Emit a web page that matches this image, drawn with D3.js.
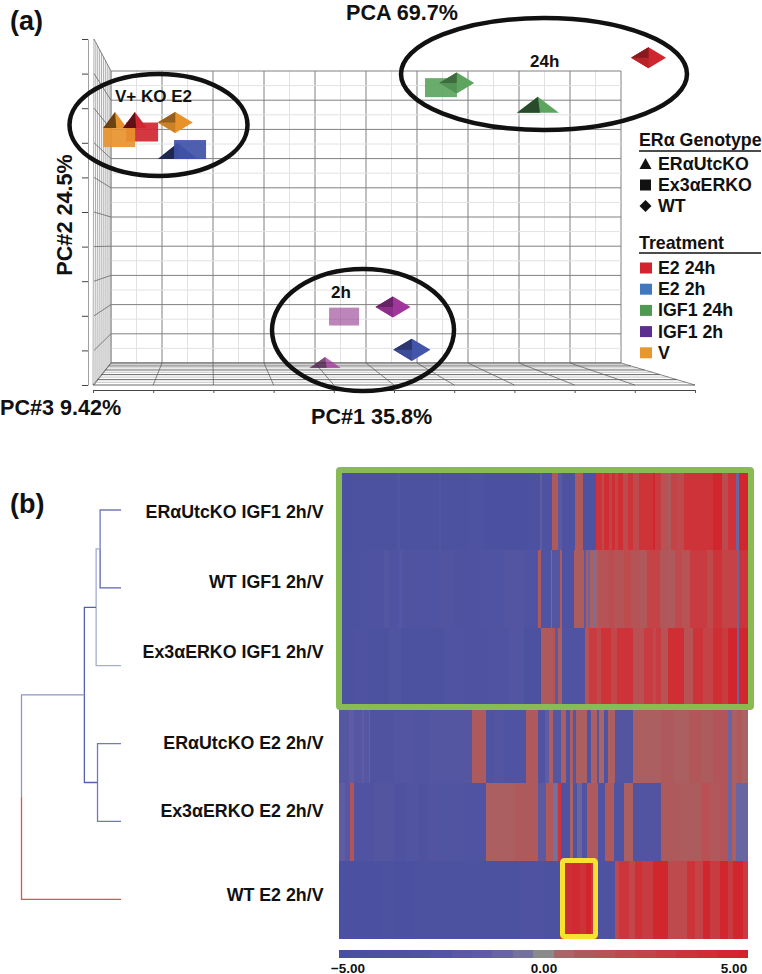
<!DOCTYPE html>
<html>
<head>
<meta charset="utf-8">
<script src="https://cdn.jsdelivr.net/npm/d3@7"></script>
<style>
  html, body { margin: 0; padding: 0; background: #fff; }
  text { font-family: "Liberation Sans", Arial, sans-serif; font-weight: bold; fill: #111; }
</style>
</head>
<body>
<div id="chart-area"></div>
<script>
// Constants
const WIDTH = 762;
const HEIGHT = 974;

// PCA data (grid units of the 3D box)
const pcaGenotype = ['tri', 'tri', 'square', 'square', 'diamond', 'tri', 'square', 'square', 'tri', 'diamond', 'diamond', 'diamond', 'square', 'diamond', 'tri'];
const pcaTreatment = ['E2 2h', 'V', 'E2 24h', 'V', 'V', 'E2 24h', 'E2 2h', 'IGF1 24h', 'IGF1 24h', 'IGF1 24h', 'E2 24h', 'IGF1 2h', 'IGF1 2h', 'E2 2h', 'IGF1 2h'];
const pcaPc1 = [1.31, 0.08, 0.61, 0.16, 1.26, 0.47, 1.55, 6.47, 8.37, 6.78, 10.54, 5.53, 4.57, 5.9, 4.2];
const pcaPc2 = [7.26, 8.32, 7.91, 7.72, 8.24, 8.32, 7.31, 9.43, 8.84, 9.59, 10.45, 1.92, 1.59, 0.45, 0.02];
const pcaPc3 = [-0.5, -4.3, 0, 0, 0, -4.3, 0, 0, 0, 0, 0, 0, -0.6, 0.6, -2.6];

// Legend data
const genotypeLabels = ['ERαUtcKO', 'Ex3αERKO', 'WT'];
const genotypeShapes = ['tri', 'square', 'diamond'];
const treatmentLabels = ['E2 24h', 'E2 2h', 'IGF1 24h', 'IGF1 2h', 'V'];
const treatmentColors = ['#d2232e', '#3f78bf', '#4f9a50', '#5b2e90', '#e8962e'];
const markerColors = ['#d0262f', '#4355ab', '#5da55f', '#a0359c', '#e8922c'];

// Heatmap rows, pairs of [last gene index, log ratio]
const rowLabels = ['ERαUtcKO IGF1 2h/V', 'WT IGF1 2h/V', 'Ex3αERKO IGF1 2h/V', 'ERαUtcKO E2 2h/V', 'Ex3αERKO E2 2h/V', 'WT E2 2h/V'];
const rowErIgf = [[12,-4.2],[26,-3.6],[43,-4],[58,-3.8],[61,-2.6],[100,-3.7],[102,-2.6],[130,-4],[145,-3.5],[190,-4.2],[201,-3.8],[203,-1.5],[213,-3.4],[219,1],[223,-2],[236,-3.5],[244,1],[257,-3.5],[263,3.6],[265,2],[270,4],[273,2.5],[276,4],[279,2.5],[284,4],[289,2],[294,3.6],[300,2],[314,3.6],[316,4.6],[322,3],[329,1.5],[332,1],[338,2.5],[345,2],[374,3.6],[383,4.6],[389,2],[397,3.6],[400,-1],[409,4.6]];
const rowWtIgf = [[22,-3.8],[45,-3.4],[50,-2.5],[60,-3.2],[63,-2.4],[100,-3.2],[115,-2.8],[140,-3.4],[165,-3],[185,-2.6],[199,-3.2],[202,1],[212,-3],[213,1],[221,-2.5],[223,1],[235,-3.5],[245,0.9],[247,-2],[249,0.9],[251,-1],[254,0.8],[256,-0.5],[259,0.8],[270,1.4],[275,1.9],[285,1.4],[292,1.9],[301,1.4],[308,1],[321,2.5],[329,1.2],[336,1],[343,2],[351,1.5],[368,3],[374,2],[383,3.5],[398,2.5],[400,-1],[409,3.5]];
const rowExIgf = [[15,-4],[28,-3.4],[50,-3.7],[62,-2.9],[105,-3.8],[125,-3],[150,-3.4],[170,-3],[185,-2.6],[202,-3.6],[214,1],[216,1.6],[219,-2],[223,0.8],[246,-3],[250,1.5],[258,3],[262,2],[272,3.5],[278,2.2],[294,3.6],[305,1.6],[314,3],[317,2],[322,3],[329,1.5],[345,4],[354,1.5],[364,3.5],[374,2.5],[383,4],[389,3],[398,4.6],[400,-1],[409,4.6]];
const rowErE2 = [[10,-2.4],[15,-1.5],[23,-2.4],[25,-1.5],[30,-2.4],[31,-1.2],[55,-3],[75,-2.6],[90,-2.9],[133,-2.5],[147,1],[155,-3],[165,-2.6],[187,-3],[199,1],[206,-3],[210,-1.5],[214,0.8],[222,-2.5],[227,0.8],[231,-3],[234,0.8],[237,-2.4],[248,0.8],[252,-3],[258,0.8],[260,-2.5],[265,0.5],[269,-3],[276,0.8],[294,-2.7],[322,0.8],[335,1],[350,0.8],[362,1.2],[374,0.9],[385,1.3],[389,1.4],[393,-1],[398,0.8],[403,1.1],[409,0.6]];
const rowExE2 = [[6,-1.5],[11,-2.4],[15,1.4],[35,-3],[55,-2.7],[67,-3.4],[80,-2.9],[89,-3.4],[100,-2.8],[125,-2.9],[147,-3],[175,0.8],[199,1],[207,-2],[214,1],[218,-0.5],[219,1],[222,3.5],[231,-3.5],[234,0.6],[238,-3],[243,-1],[248,-3],[259,1],[266,-3],[275,1],[285,-3],[294,0.8],[322,-2.8],[340,1],[362,0.9],[371,1.6],[381,1.1],[389,1.3],[393,-1],[397,0.8],[409,-1]];
const rowWtE2 = [[40,-4.2],[55,-3.6],[75,-4.2],[100,-3.6],[130,-4],[150,-3.7],[180,-3.8],[205,-3.4],[221,-4],[233,3.8],[241,4.2],[247,3.6],[252,4.8],[258,3],[272,-3.5],[276,-3],[280,2.2],[290,3.4],[296,2.2],[303,3.8],[314,3],[329,4.6],[348,2],[356,3.5],[364,2.5],[371,4.6],[381,3],[389,4.6],[394,3],[404,4.6],[409,3]];
const heatmapRows = [rowErIgf, rowWtIgf, rowExIgf, rowErE2, rowExE2, rowWtE2];
const geneCount = 409;

// Colour scale data
const colorStops = [-5, -3, -1.5, -0.6, 0, 0.4, 1, 2, 3.5, 5];
const colorRange = ['#47509f', '#5053a1', '#605ca3', '#6f6da0', '#8a8a8a', '#a5686a', '#ae5a5c', '#bf4a4e', '#cc343a', '#d4212a'];
const legendValues = d3.range(-5, 5.01, 0.5);
const legendTicks = [-5, 0, 5];

// Dendrogram data, node 6 upwards are merges
const mergeLeft = [0, 6, 3, 7, 9];
const mergeRight = [1, 2, 4, 8, 5];
const mergeHeight = [0.21, 0.25, 0.236, 0.368, 1];
const nodeColors = ['#6f7ab8', '#5a66ae', '#a5abd4', '#6f7ab8', '#6f7ab8', '#dc5555', '#a5abd4', '#5561ad', '#5561ad', '#8f96ca'];

// SVG
const svg = d3.select('#chart-area')
    .append('svg')
    .attr('width', WIDTH)
    .attr('height', HEIGHT)
    .style('display', 'block');

const label = (x, y, txt, size, anchor) => svg.append('text')
    .attr('x', x).attr('y', y)
    .attr('font-size', size)
    .attr('text-anchor', anchor || 'start')
    .attr('dominant-baseline', 'central')
    .text(txt);

// ---- (a) PCA box ----
const x = d3.scaleLinear().domain([0, 10]).range([111, 621]);
const y = d3.scaleLinear().domain([0, 10]).range([363, 71]);
const xFront = d3.scaleLinear().domain([0, 10]).range([93, 695]);
const yWall = d3.scaleLinear().domain([0, 10]).range([385, 39]);
const units = d3.range(0, 10.01, 0.5);

const box = svg.append('g');

// Back wall
box.selectAll('.bx').data(units).enter().append('line')
    .attr('x1', d => x(d)).attr('x2', d => x(d))
    .attr('y1', y(10)).attr('y2', y(0))
    .attr('stroke', d => d % 1 ? '#e2e2e2' : '#808080')
    .attr('stroke-width', 1);
box.selectAll('.by').data(units).enter().append('line')
    .attr('x1', x(0)).attr('x2', x(10))
    .attr('y1', d => y(d)).attr('y2', d => y(d))
    .attr('stroke', d => d % 1 ? '#e2e2e2' : '#808080')
    .attr('stroke-width', 1);

// Side wall
const sideDepth = d3.range(0, 1.01, 1 / 9);
box.selectAll('.sv').data(sideDepth).enter().append('line')
    .attr('x1', d => 94 + 17 * d).attr('x2', d => 93 + 18 * d)
    .attr('y1', d => 39 + 32 * d).attr('y2', d => 385 - 22 * d)
    .attr('stroke', '#8a8a8a').attr('stroke-width', 0.7);
box.selectAll('.sh').data(d3.range(0, 11)).enter().append('line')
    .attr('x1', 94).attr('x2', x(0))
    .attr('y1', d => yWall(d)).attr('y2', d => y(d))
    .attr('stroke', '#666').attr('stroke-width', 0.8);

// Floor
const floorDepth = d3.range(0, 1.01, 0.1).map(d => Math.pow(d, 1.25));
box.selectAll('.fh').data(floorDepth).enter().append('line')
    .attr('x1', d => 111 - 18 * d).attr('x2', d => 621 + 74 * d)
    .attr('y1', d => 363 + 22 * d).attr('y2', d => 363 + 22 * d)
    .attr('stroke', (d, i) => i % 2 ? '#bdbdbd' : '#555')
    .attr('stroke-width', 0.9);
box.selectAll('.fv').data(d3.range(0, 11)).enter().append('line')
    .attr('x1', d => x(d)).attr('x2', d => xFront(d))
    .attr('y1', 363).attr('y2', 385)
    .attr('stroke', '#555').attr('stroke-width', 0.7);

// Axes
const bottomAxis = svg.append('g')
    .attr('transform', 'translate(0, 390)')
    .call(d3.axisBottom(xFront).ticks(10).tickSizeInner(3).tickSizeOuter(0).tickFormat(''));
bottomAxis.select('.domain').attr('stroke', '#444').attr('stroke-width', 1.2);
bottomAxis.selectAll('.tick line').attr('stroke', '#555');

const leftAxis = svg.append('g')
    .attr('transform', 'translate(88, 0)')
    .call(d3.axisLeft(yWall).ticks(10).tickSizeInner(6).tickSizeOuter(0).tickFormat(''));
leftAxis.select('.domain').attr('stroke', '#888').attr('stroke-width', 0.8);
leftAxis.selectAll('.tick line').attr('stroke', '#444');

// Markers
const depthScale = d3.scaleLinear().domain([-5, 5]).range([0.5, 1.5]);
const tColor = d3.scaleOrdinal().domain(treatmentLabels).range(markerColors);
const shade = (c, k) => d3.color(c).darker(k).formatHex();
const poly = (g, pts, fill, op) => g.append('polygon')
    .attr('points', pts.map(p => p.join(',')).join(' '))
    .attr('fill', fill)
    .attr('fill-opacity', op || 1);

pcaPc1.forEach((p, i) => {
    const g = svg.append('g').attr('transform', `translate(${x(p)}, ${y(pcaPc2[i])})`);
    const m = depthScale(pcaPc3[i]);
    const t = pcaTreatment[i];
    const c = tColor(t);
    if (pcaGenotype[i] === 'square') {
        const w = 16 * m, h = 9.5 * m;
        g.append('rect').attr('x', -w).attr('y', -h).attr('width', 2 * w).attr('height', 2 * h)
            .attr('fill', t === 'E2 2h' ? '#3f51a8' : t === 'IGF1 2h' ? shade(c, 0.35) : c)
            .attr('fill-opacity', t === 'IGF1 2h' ? 0.58 : 0.92);
    } else if (pcaGenotype[i] === 'tri') {
        const w = 21 * m, h = pcaPc2[i] < 0.2 ? 5.5 : 8;
        g.attr('opacity', pcaPc2[i] < 0.2 ? 0.75 : 1);
        poly(g, [[-w, h], [0, -h], [w, h]], c);
        poly(g, [[-w, h], [0, -h], [w * 0.1, h]], shade(c, 2.2));
    } else {
        const w = 17.5 * m, h = 10.5 * m;
        poly(g, [[-w, 0], [0, -h], [w, 0], [0, h]], c);
        poly(g, [[-w, 0], [0, -h], [0, h]], shade(c, 0.35));
        poly(g, [[-w, 0], [0, -h], [0, 0]], shade(c, 1.2));
    }
});

// Cluster ellipses
const clusterX = [158.5, 544, 363];
const clusterY = [125, 74, 330];
const clusterRx = [89, 143, 91];
const clusterRy = [51, 56, 61];
svg.selectAll('.cluster').data(clusterX).enter().append('ellipse')
    .attr('cx', d => d)
    .attr('cy', (d, i) => clusterY[i])
    .attr('rx', (d, i) => clusterRx[i])
    .attr('ry', (d, i) => clusterRy[i])
    .attr('fill', 'none')
    .attr('stroke', '#111')
    .attr('stroke-width', 4.5);

label(10, 21, '(a)', 27);
label(346, 12, 'PCA 69.7%', 21.6);
label(115, 96, 'V+ KO E2', 17);
label(530, 61, '24h', 17);
label(331, 292, '2h', 17);
label(0, 407, 'PC#3 9.42%', 21.6);
label(311, 416, 'PC#1 35.8%', 21.6);
svg.append('text')
    .attr('transform', 'translate(64, 215) rotate(-90)')
    .attr('font-size', 21.6)
    .attr('text-anchor', 'middle')
    .attr('dominant-baseline', 'central')
    .text('PC#2 24.5%');

// Legends
label(639, 140, 'ERα Genotype', 17.8);
svg.append('line').attr('x1', 639).attr('x2', 761).attr('y1', 151).attr('y2', 151).attr('stroke', '#111').attr('stroke-width', 1.5);
genotypeLabels.forEach((d, i) => {
    const cy = 164 + i * 21;
    const g = svg.append('g').attr('transform', `translate(645.5, ${cy})`);
    if (genotypeShapes[i] === 'tri') poly(g, [[-6, 5], [0, -6], [6, 5]], '#111');
    if (genotypeShapes[i] === 'square') poly(g, [[-5.5, -5.5], [5.5, -5.5], [5.5, 5.5], [-5.5, 5.5]], '#111');
    if (genotypeShapes[i] === 'diamond') poly(g, [[-6, 0], [0, -6], [6, 0], [0, 6]], '#111');
    label(658, cy, d, 17.8);
});
label(639, 243, 'Treatment', 17.8);
svg.append('line').attr('x1', 639).attr('x2', 761).attr('y1', 253).attr('y2', 253).attr('stroke', '#111').attr('stroke-width', 1.5);
treatmentLabels.forEach((d, i) => {
    const cy = 268 + i * 21.2;
    svg.append('rect').attr('x', 640).attr('y', cy - 5.5).attr('width', 12).attr('height', 11).attr('fill', treatmentColors[i]);
    label(658, cy, d, 17.8);
});

// ---- (b) Heatmap ----
label(10, 504, '(b)', 27);

const geneX = d3.scaleLinear().domain([0, geneCount]).range([339, 748]);
const rowY = d3.scaleBand().domain(d3.range(6)).range([472, 939]);
const color = d3.scaleLinear().domain(colorStops).range(colorRange);

const heat = svg.append('g').attr('shape-rendering', 'crispEdges');
heatmapRows.forEach((row, r) => {
    heat.selectAll(`.r${r}`).data(row).enter().append('rect')
        .attr('x', (d, i) => geneX(i ? row[i - 1][0] : 0))
        .attr('y', rowY(r))
        .attr('width', (d, i) => geneX(d[0]) - geneX(i ? row[i - 1][0] : 0))
        .attr('height', rowY.bandwidth() + (r < 5 ? 0.6 : 0))
        .attr('fill', d => color(d[1]));
});

// Highlight boxes
svg.append('rect').attr('x', 339).attr('y', 470).attr('width', 412).attr('height', 237).attr('rx', 1)
    .attr('fill', 'none').attr('stroke', '#89bb55').attr('stroke-width', 6);
svg.append('rect').attr('x', 562.5).attr('y', 860.5).attr('width', 33).attr('height', 76).attr('rx', 2)
    .attr('fill', 'none').attr('stroke', '#f7e32f').attr('stroke-width', 5);

// Row labels
const labelY = [512, 582, 652, 743, 811, 895];
rowLabels.forEach((d, i) => label(323.5, labelY[i], d, 17.8, 'end'));

// Colour legend
const legendX = d3.scaleLinear().domain([-5, 5]).range([339, 748]);
svg.append('g').attr('shape-rendering', 'crispEdges')
    .selectAll('.step').data(legendValues).enter().append('rect')
    .attr('x', d => legendX(d) - (d === -5 ? 0 : 10.2))
    .attr('y', 950)
    .attr('width', d => (d === -5 || d === 5) ? 10.3 : 20.6)
    .attr('height', 8)
    .attr('fill', d => color(d));
const legendAnchorX = [348, 544, 734];
legendTicks.forEach((d, i) => label(legendAnchorX[i], 968, d3.format('.2f')(d), 13.5, 'middle'));

// ---- Dendrogram ----
const heightX = d3.scaleLinear().domain([0, 1]).range([121, 21.5]);
const leafY = d3.scaleLinear().domain([0, 5]).range([510, 899.3]);
const nodeY = d3.range(6).map(leafY);
const nodeH = d3.range(6).map(() => 0);
mergeLeft.forEach((l, i) => {
    nodeY.push((nodeY[l] + nodeY[mergeRight[i]]) / 2);
    nodeH.push(mergeHeight[i]);
});
const dendro = svg.append('g').attr('fill', 'none').attr('stroke-width', 1.3);
mergeLeft.forEach((l, i) => {
    const mid = nodeY[6 + i];
    [l, mergeRight[i]].forEach(child => {
        dendro.append('path')
            .attr('d', d3.line()([[heightX(nodeH[child]), nodeY[child]], [heightX(mergeHeight[i]), nodeY[child]], [heightX(mergeHeight[i]), mid]]))
            .attr('stroke', nodeColors[child]);
    });
});
</script>
</body>
</html>
